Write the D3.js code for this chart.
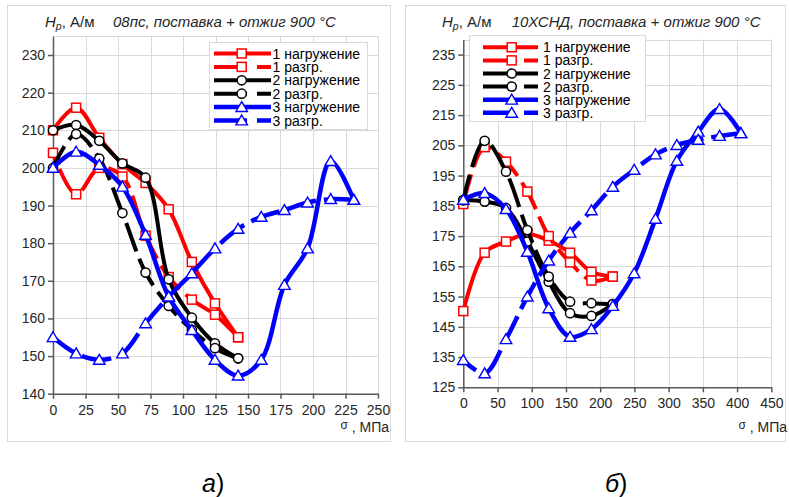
<!DOCTYPE html>
<html><head><meta charset="utf-8">
<script src="https://cdn.jsdelivr.net/npm/d3@7"></script>
<style>
body{margin:0;background:#fff;}
text{font-family:"Liberation Sans",Arial,sans-serif;}
</style></head>
<body><svg id="c" width="789" height="497"></svg>
<script>
// ---------- DATA ----------
const legendLabels = ["1 нагружение","1 разгр.","2 нагружение","2 разгр.","3 нагружение","3 разгр."];

// Chart а) 08пс
const aTitleMat = "08пс, поставка + отжиг 900 °С";
const aX = [0,17.8,35.6,53.4,71.2,89,106.8,124.6,142.4,160.2,178,195.8,213.6,231.4];
const aLoad1   = [210,216,208,201,196,189,175,164,155];
const aUnload1 = [155,161,165,171,182,197.7,200,193,204];          // from σ=142.4 back to 0
const aLoad2   = [210,211.4,207.2,201.2,197.4,170.4,160.2,153.4,149.4];
const aUnload2 = [149.4,152.1,157,163.3,172.2,188,202.5,209,200];  // back to 0
const aLoad3   = [200,204.3,200.8,195,182.2,165.8,156.9,149,144.8,149,168.9,178.6,201.8,191.5];
const aUnload3 = [191.5,191.7,190.8,188.8,187,183.8,178.6,172,165.8,158.7,150.7,149,150.7,155]; // back to 0
const aXTicks = [0,25,50,75,100,125,150,175,200,225,250];
const aYTicks = [140,150,160,170,180,190,200,210,220,230];

// Chart б) 10ХСНД
const bTitleMat = "10ХСНД, поставка + отжиг 900 °С";
const bX = [0,31.2,62.4,93.6,124.8,156,187.2,218.4,249.6,280.8,312,343.2,374.4,405.6];
const bLoad1   = [150.2,169.5,173.2,175.7,173.5,169.5,163.2,161.6];
const bUnload1 = [161.6,160.3,166.3,175,189.7,199.6,204.4,185.6];   // back to 0
const bLoad2   = [186.9,186.4,184.3,173.2,159.9,149.5,148.6,152.5];
const bUnload2 = [152.5,152.8,153.3,161.6,177,196.3,206.5,186.9];   // back to 0
const bLoad3   = [187,189.2,183.9,169.8,151.1,141.7,144.2,151.9,162.7,180.7,199.9,209.5,217,209];
const bUnload3 = [209,208.1,206.8,205.1,202,196.9,191.3,183.5,176.1,166.9,155,140.9,129.6,134]; // back to 0
const bXTicks = [0,50,100,150,200,250,300,350,400,450];
const bYTicks = [125,135,145,155,165,175,185,195,205,215,225,235];

// ---------- DRAW ----------
const svg = d3.select("#c");
const colors = ["#ff0000","#ff0000","#000000","#000000","#0000ff","#0000ff"];
const markers = ["square","square","circle","circle","triangle","triangle"];
const dashed = [false,true,false,true,false,true];
const widths = [4,4,4,4,4.5,4.5];

function pairs(xs, vals, reverse){
  const n = vals.length;
  return vals.map((v,i)=>[reverse ? xs[n-1-i] : xs[i], v]);
}

function drawMarker(g, type, cx, cy, color){
  if(type==="square"){
    g.append("rect").attr("x",cx-4.5).attr("y",cy-4.5).attr("width",9).attr("height",9)
      .attr("fill","#fff").attr("stroke",color).attr("stroke-width",1.5);
  } else if(type==="circle"){
    g.append("circle").attr("cx",cx).attr("cy",cy).attr("r",4.6)
      .attr("fill","#fff").attr("stroke",color).attr("stroke-width",1.5);
  } else {
    const s=5.5;
    g.append("path").attr("d",`M${cx},${cy-s}L${cx+s*1.05},${cy+s*0.8}L${cx-s*1.05},${cy+s*0.8}Z`)
      .attr("fill","#fff").attr("stroke",color).attr("stroke-width",1.4);
  }
}

function panel(cfg){
  const g = svg.append("g");
  // frame
  g.append("rect").attr("x",cfg.frame[0]+0.5).attr("y",cfg.frame[1]+0.5)
    .attr("width",cfg.frame[2]).attr("height",cfg.frame[3])
    .attr("fill","#fff").attr("stroke","#d9d9d9").attr("stroke-width",1);
  const x = d3.scaleLinear().domain(cfg.xDom).range(cfg.xRange);
  const y = d3.scaleLinear().domain(cfg.yDom).range(cfg.yRange);
  // grid
  const grid = g.append("g").attr("stroke","#d9d9d9").attr("stroke-width",1);
  cfg.yTicks.slice(1).forEach(t=>grid.append("line").attr("x1",x(cfg.xDom[0])).attr("x2",x(cfg.xDom[1]))
    .attr("y1",Math.round(y(t))+0.5).attr("y2",Math.round(y(t))+0.5));
  grid.append("line").attr("x1",x(cfg.xDom[0])).attr("x2",x(cfg.xDom[1]))
    .attr("y1",Math.round(y(cfg.yDom[1]))+0.5).attr("y2",Math.round(y(cfg.yDom[1]))+0.5);
  cfg.xTicks.slice(1).forEach(t=>grid.append("line").attr("y1",y(cfg.yDom[0])).attr("y2",y(cfg.yDom[1]))
    .attr("x1",Math.round(x(t))+0.5).attr("x2",Math.round(x(t))+0.5));
  // axes
  const ya = g.append("g").attr("transform",`translate(${x(cfg.xDom[0])},0)`)
    .call(d3.axisLeft(y).tickValues(cfg.yTicks).tickSize(5).tickSizeOuter(0).tickPadding(3));
  const xa = g.append("g").attr("transform",`translate(0,${y(cfg.yDom[0])})`)
    .call(d3.axisBottom(x).tickValues(cfg.xTicks).tickSize(5).tickSizeOuter(0).tickPadding(6));
  [ya,xa].forEach(a=>{
    a.selectAll("path,line").attr("stroke","#595959").attr("stroke-width",1.5);
    a.selectAll("text").attr("font-size","14px").attr("fill","#262626")
      .attr("font-family","'Liberation Sans',Arial,sans-serif");
  });
  // series
  const line = d3.line().x(d=>x(d[0])).y(d=>y(d[1])).curve(d3.curveCatmullRom.alpha(0.5));
  cfg.series.forEach((s,i)=>{
    const sg = g.append("g");
    sg.append("path").attr("d",line(s)).attr("fill","none").attr("stroke",colors[i])
      .attr("stroke-width",widths[i]).attr("stroke-linejoin","round")
      .attr("stroke-dasharray",dashed[i]?"30,8":null);
    s.forEach(d=>drawMarker(sg,markers[i],x(d[0]),y(d[1]),colors[i]));
  });
  // legend
  const L = cfg.legend;
  const lg = g.append("g");
  lg.append("rect").attr("x",L.box[0]+0.5).attr("y",L.box[1]+0.5).attr("width",L.box[2]).attr("height",L.box[3])
    .attr("fill","#fff").attr("stroke","#d9d9d9");
  legendLabels.forEach((lab,i)=>{
    const yy = L.y0 + i*L.dy;
    lg.append("line").attr("x1",L.x0).attr("x2",L.x1).attr("y1",yy).attr("y2",yy)
      .attr("stroke",colors[i]).attr("stroke-width",widths[i])
      .attr("stroke-dasharray",dashed[i]?`${L.dash},10`:null);
    drawMarker(lg,markers[i],L.xm,yy,colors[i]);
    lg.append("text").attr("x",L.xt).attr("y",yy+5).attr("font-size","14px").attr("fill","#000").text(lab);
  });
  // title
  const tg = g.append("text").attr("x",cfg.titleX).attr("y",27).attr("font-size","15px").attr("fill","#262626");
  tg.append("tspan").attr("font-style","italic").text("H");
  tg.append("tspan").attr("font-style","italic").attr("font-size","10.5px").attr("dy",3).text("р");
  tg.append("tspan").attr("dy",-3).text(", А/м");
  g.append("text").attr("x",cfg.matX).attr("y",27).attr("font-size","15px").attr("font-style","italic")
    .attr("fill","#262626").text(cfg.mat);
  // axis label
  const al = g.append("text").attr("x",cfg.axLabX).attr("y",432).attr("font-size","14px").attr("fill","#262626")
    .attr("text-anchor","end");
  al.append("tspan").attr("font-size","12px").attr("dy",-3).text("σ");
  al.append("tspan").attr("dy",3).text(" ,  МПа");
  // sub label
  svg.append("text").attr("x",cfg.subX).attr("y",492).attr("font-family","'Liberation Serif',serif")
    .attr("font-size","25px").attr("fill","#000")
    .call(t=>{t.append("tspan").attr("font-style","italic").text(cfg.sub); t.append("tspan").text(")");});
}

panel({
  frame:[7,5,383,436],
  xDom:[0,250], xRange:[53,378], yDom:[140,235], yRange:[393.7,36.2],
  xTicks:aXTicks, yTicks:aYTicks,
  series:[pairs(aX,aLoad1,false),pairs(aX.slice(0,aUnload1.length),aUnload1,true),
          pairs(aX,aLoad2,false),pairs(aX.slice(0,aUnload2.length),aUnload2,true),
          pairs(aX,aLoad3,false),pairs(aX.slice(0,aUnload3.length),aUnload3,true)],
  legend:{box:[209,42,158,87], x0:214, x1:271, xm:241.7, xt:272.5, y0:53.5, dy:13.4, dash:33},
  titleX:45, matX:113, mat:aTitleMat, axLabX:389, sub:"а", subX:202
});
panel({
  frame:[405,5,380,436],
  xDom:[0,450], xRange:[463.3,771.3], yDom:[125,240], yRange:[387.3,39.5],
  xTicks:bXTicks, yTicks:bYTicks,
  series:[pairs(bX,bLoad1,false),pairs(bX.slice(0,bUnload1.length),bUnload1,true),
          pairs(bX,bLoad2,false),pairs(bX.slice(0,bUnload2.length),bUnload2,true),
          pairs(bX,bLoad3,false),pairs(bX.slice(0,bUnload3.length),bUnload3,true)],
  legend:{box:[469,35,176,86], x0:483, x1:538, xm:511.7, xt:543, y0:47.3, dy:13.1, dash:31},
  titleX:442, matX:511.7, mat:bTitleMat, axLabX:787, sub:"б", subX:605
});
</script></body></html>
